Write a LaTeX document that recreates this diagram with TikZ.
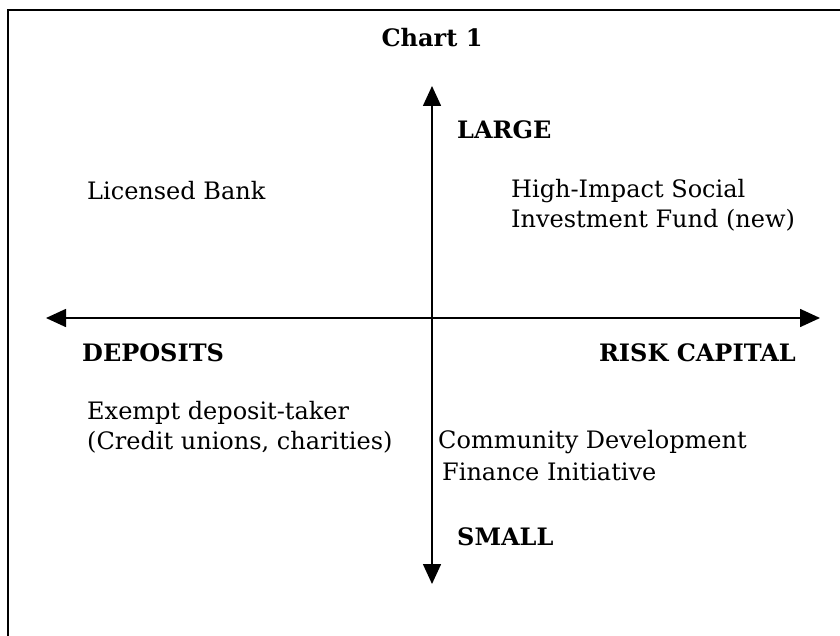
\documentclass[tikz,border=0pt]{standalone}
\usepackage{fontspec}
\setmainfont{DejaVu Serif}
\usetikzlibrary{arrows.meta}
\begin{document}
\begin{tikzpicture}[x=1pt,y=-1pt,
  txt/.style={inner sep=0pt,font=\fontsize{24}{30.5}\selectfont,align=left},
  lbl/.style={inner sep=0pt,font=\fontsize{24}{30}\selectfont\bfseries},
  axis/.style={line width=1.6pt,-{Triangle[length=20pt,width=18pt]}},
  frame/.style={line width=2.2pt}]
\useasboundingbox (0,0) rectangle (840,636);
% frame (top and left edges)
\coordinate (fl) at (8,636);
\coordinate (fc) at (8,10);
\coordinate (fr) at (840,10);
\draw[frame] (fl) -- (fc) -- (fr);
% title
\node[lbl] (title) at (432,38) {Chart 1};
% axes
\coordinate (o) at (432,318);
\coordinate (top) at (432,86);
\coordinate (bot) at (432,584);
\coordinate (lft) at (46,318);
\coordinate (rgt) at (820,318);
\draw[axis] (o) -- (top);
\draw[axis] (o) -- (bot);
\draw[axis] (o) -- (lft);
\draw[axis] (o) -- (rgt);
% axis labels
\node[lbl,anchor=west] (large) at (457,130) {LARGE};
\node[lbl,anchor=west] (small) at (457,537) {SMALL};
\node[lbl,anchor=west] (dep) at (82,353) {DEPOSITS};
\node[lbl,anchor=east] (risk) at (796,353) {RISK CAPITAL};
% quadrant entries
\node[txt,anchor=west] (bank) at (87,191) {Licensed Bank};
\node[txt,anchor=north west] (fund) at (511,179) {High-Impact Social\\Investment Fund (new)};
\node[txt,anchor=north west] (exempt) at (87,401) {Exempt deposit-taker\\(Credit unions, charities)};
\node[txt,anchor=west] (cdfi1) at (438,442) {Community Development};
\node[txt,anchor=west] (cdfi2) at (442,472) {Finance Initiative};
\end{tikzpicture}
\end{document}
